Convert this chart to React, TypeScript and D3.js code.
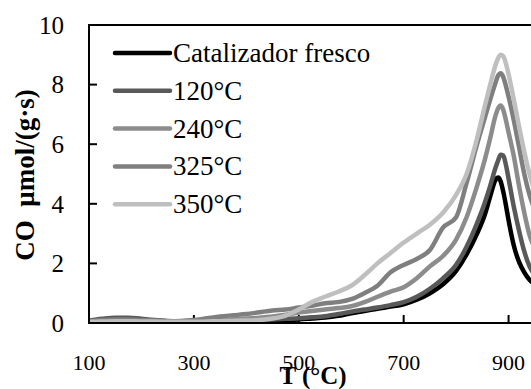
import React, { useRef, useEffect } from 'react';
import * as d3 from 'd3';

// temperature grid (°C) shared by all series
const temps = [100, 125, 150, 175, 200, 225, 250, 275, 300, 325, 350, 375, 400, 425, 450, 475, 500, 525, 550, 575, 600, 625, 650, 675, 700, 725, 750, 775, 800, 820, 840, 855, 865, 875, 880, 885, 890, 895, 900, 910, 920, 930, 940, 950];

// CO µmol/(g·s)
const fresco = [0.05, 0.08, 0.1, 0.1, 0.08, 0.06, 0.05, 0.04, 0.04, 0.05, 0.05, 0.05, 0.06, 0.07, 0.08, 0.1, 0.12, 0.15, 0.18, 0.24, 0.33, 0.4, 0.48, 0.55, 0.63, 0.78, 1.0, 1.3, 1.75, 2.3, 3.0, 3.65, 4.25, 4.8, 4.88, 4.75, 4.4, 3.95, 3.45, 2.6, 2.05, 1.7, 1.45, 1.3];
const s120 = [0.08, 0.14, 0.18, 0.18, 0.14, 0.1, 0.07, 0.06, 0.07, 0.08, 0.08, 0.09, 0.1, 0.11, 0.12, 0.14, 0.16, 0.19, 0.23, 0.3, 0.38, 0.45, 0.52, 0.6, 0.7, 0.88, 1.15, 1.5, 1.95, 2.56, 3.35, 4.05, 4.6, 5.2, 5.45, 5.65, 5.62, 5.3, 4.85, 3.9, 3.1, 2.4, 1.9, 1.6];
const s240 = [0.05, 0.07, 0.08, 0.08, 0.07, 0.06, 0.05, 0.06, 0.07, 0.08, 0.1, 0.12, 0.15, 0.18, 0.22, 0.28, 0.35, 0.4, 0.45, 0.5, 0.56, 0.7, 0.88, 1.05, 1.2, 1.5, 1.9, 2.25, 2.8, 3.55, 4.6, 5.5, 6.2, 6.95, 7.2, 7.3, 7.15, 6.8, 6.4, 5.6, 4.6, 3.7, 2.95, 2.5];
const s325 = [0.06, 0.1, 0.12, 0.12, 0.1, 0.08, 0.06, 0.07, 0.1, 0.16, 0.22, 0.26, 0.3, 0.36, 0.42, 0.45, 0.52, 0.58, 0.66, 0.7, 0.8, 1.0, 1.25, 1.7, 1.95, 2.15, 2.45, 3.2, 3.55, 4.7, 6.0, 6.9, 7.5, 8.05, 8.3, 8.38, 8.25, 7.95, 7.6, 6.8, 5.9, 5.0, 4.3, 3.8];
const s350 = [0.04, 0.05, 0.06, 0.06, 0.05, 0.05, 0.04, 0.04, 0.04, 0.05, 0.06, 0.07, 0.08, 0.1, 0.15, 0.25, 0.45, 0.7, 0.88, 1.05, 1.25, 1.6, 2.0, 2.35, 2.7, 3.0, 3.3, 3.7, 4.3, 5.0, 6.2, 7.3, 8.0, 8.65, 8.88, 9.0, 8.95, 8.7, 8.35, 7.5, 6.6, 5.75, 5.0, 4.4];

const seriesNames = ['Catalizador fresco', '120°C', '240°C', '325°C', '350°C'];
const seriesColors = ['#000000', '#595959', '#8c8c8c', '#7f7f7f', '#bfbfbf'];
const seriesValues = [fresco, s120, s240, s325, s350];

const yTicks = [0, 2, 4, 6, 8, 10];
const xTicks = [100, 300, 500, 700, 900];

const serif = 'Liberation Serif, Times New Roman, DejaVu Serif, serif';

const App: React.FC = () => {
  const svgRef = useRef<SVGSVGElement | null>(null);
  const width = 531;
  const height = 389;

  useEffect(() => {
    const svg = d3.select(svgRef.current);
    svg.selectAll('*').remove();

    const x = d3.scaleLinear().domain([100, 1000]).range([89, 561]);
    const y = d3.scaleLinear().domain([0, 10]).range([323, 25]);

    svg.append('defs').append('clipPath').attr('id', 'plot')
      .append('rect')
      .attr('x', x(100)).attr('y', y(10))
      .attr('width', x(1000) - x(100)).attr('height', y(0) - y(10));

    // ticks (inside), drawn under the data
    const ticks = svg.append('g').attr('stroke', '#000').attr('stroke-width', 2);
    yTicks.forEach(t => {
      ticks.append('line')
        .attr('x1', x(100)).attr('x2', x(100) + 8)
        .attr('y1', y(t)).attr('y2', y(t));
    });
    xTicks.forEach(t => {
      ticks.append('line')
        .attr('x1', x(t)).attr('x2', x(t))
        .attr('y1', y(0)).attr('y2', y(0) - 8);
    });

    // curves
    const line = d3.line<number>()
      .x((_, i) => x(temps[i]))
      .y(d => y(d))
      .curve(d3.curveMonotoneX);

    const curves = svg.append('g').attr('clip-path', 'url(#plot)');
    seriesValues.forEach((vals, i) => {
      curves.append('path')
        .attr('d', line(vals) as string)
        .attr('fill', 'none')
        .attr('stroke', seriesColors[i])
        .attr('stroke-width', 4.5)
        .attr('stroke-linejoin', 'round')
        .attr('stroke-linecap', 'round');
    });

    // frame
    svg.append('rect')
      .attr('x', x(100)).attr('y', y(10))
      .attr('width', x(1000) - x(100)).attr('height', y(0) - y(10))
      .attr('fill', 'none').attr('stroke', '#000').attr('stroke-width', 2);

    // tick labels
    svg.append('g').selectAll('text').data(yTicks).enter().append('text')
      .attr('x', 64).attr('y', d => y(d)).attr('dy', '0.35em')
      .attr('text-anchor', 'end')
      .style('font-family', serif).attr('font-size', 25)
      .text(d => d);

    svg.append('g').selectAll('text').data(xTicks).enter().append('text')
      .attr('x', d => x(d)).attr('y', 370)
      .attr('text-anchor', 'middle')
      .style('font-family', serif).attr('font-size', 22)
      .text(d => d);

    // axis titles
    svg.append('text')
      .attr('x', 313).attr('y', 384)
      .attr('text-anchor', 'middle')
      .style('font-family', serif).attr('font-size', 25).attr('font-weight', 'bold')
      .text('T (°C)');

    svg.append('text')
      .attr('transform', 'translate(34,175) rotate(-90)')
      .attr('text-anchor', 'middle')
      .style('font-family', serif).attr('font-size', 27).attr('font-weight', 'bold')
      .style('white-space', 'pre')
      .text('CO  μmol/(g·s)');

    // legend
    const legend = svg.append('g');
    seriesNames.forEach((name, i) => {
      const ly = 53 + i * 37.8;
      legend.append('line')
        .attr('x1', 115).attr('x2', 170).attr('y1', ly).attr('y2', ly)
        .attr('stroke', seriesColors[i]).attr('stroke-width', 4.5)
        .attr('stroke-linecap', 'round');
      legend.append('text')
        .attr('x', 173).attr('y', ly + 9)
        .style('font-family', serif).attr('font-size', 27)
        .text(name);
    });
  }, []);

  return (
    <svg
      ref={svgRef}
      width={width}
      height={height}
      style={{ position: 'absolute', left: 0, top: 0, background: '#fff' }}
    />
  );
};

export default App;
